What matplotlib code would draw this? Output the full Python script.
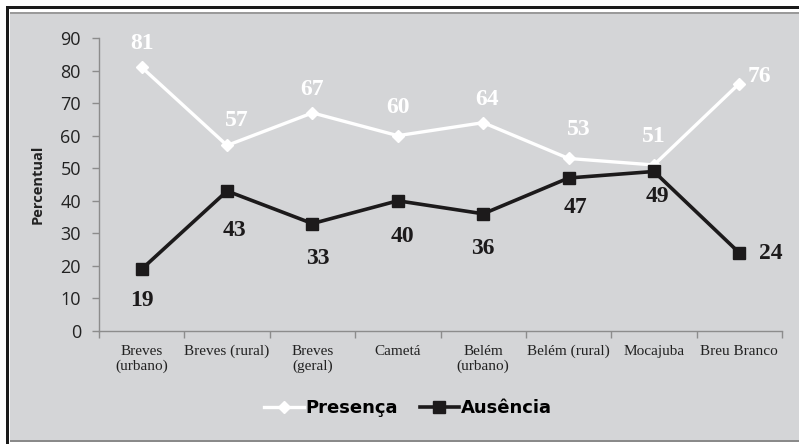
import matplotlib
matplotlib.use('Agg')
import matplotlib.pyplot as plt
from matplotlib.patches import Rectangle

# categories and percentages per locality
localidades = ['Breves\n(urbano)', 'Breves (rural)', 'Breves\n(geral)', 'Cametá',
               'Belém\n(urbano)', 'Belém (rural)', 'Mocajuba', 'Breu Branco']
presenca = [81, 57, 67, 60, 64, 53, 51, 76]
ausencia = [19, 43, 33, 40, 36, 47, 49, 24]

# label offsets in pixels (dx, dy) for each point
off_pres = [(0, 24), (10, 25), (0, 23), (0, 28), (4, 23), (10, 29), (0, 28), (20, 7)]
off_aus = [(0, -31), (7, -39), (5, -35), (5, -36), (0, -35), (7, -30), (3, -25), (31, -1)]

W, H = 799, 444
fundo = '#d4d5d7'
fig = plt.figure(figsize=(W / 100, H / 100), dpi=100, facecolor='white')

# outer frame: gray panel, dark border lines
fig.add_artist(Rectangle((10 / W, 1 - 441 / H), 789 / W, 427 / H, transform=fig.transFigure,
                         facecolor=fundo, edgecolor='none', zorder=0))
fig.add_artist(Rectangle((10 / W, 1 - 442 / H), 789 / W, 2 / H, transform=fig.transFigure,
                         facecolor='#8a8a8a', edgecolor='none', zorder=1))
fig.add_artist(Rectangle((10 / W, 1 - 14 / H), 789 / W, 1.5 / H, transform=fig.transFigure,
                         facecolor='#9a9a9a', edgecolor='none', zorder=1))
fig.add_artist(Rectangle((6 / W, 1 - 9 / H), 793 / W, 3 / H, transform=fig.transFigure,
                         facecolor='#1a1a1a', edgecolor='none', zorder=2))
fig.add_artist(Rectangle((6 / W, 0), 3 / W, 1 - 6 / H, transform=fig.transFigure,
                         facecolor='#1a1a1a', edgecolor='none', zorder=2))

ax = fig.add_axes([99 / W, 1 - 331 / H, 683 / W, 293 / H])
ax.set_facecolor('none')
x = list(range(len(localidades)))

ax.plot(x, presenca, color='white', lw=2.4, marker='D', ms=6.5, mec='white', mfc='white',
        label='Presença', zorder=3)
ax.plot(x, ausencia, color='#1c1a1b', lw=2.6, marker='s', ms=8.5, mec='#1c1a1b', mfc='#1c1a1b',
        label='Ausência', zorder=4)

for i in x:
    ax.annotate(str(presenca[i]), (i, presenca[i]), xytext=off_pres[i], textcoords='offset pixels',
                ha='center', va='center', color='white', fontsize=17, fontweight='bold',
                family='Liberation Serif', zorder=5)
    ax.annotate(str(ausencia[i]), (i, ausencia[i]), xytext=off_aus[i], textcoords='offset pixels',
                ha='center', va='center', color='#1c1a1b', fontsize=17, fontweight='bold',
                family='Liberation Serif', zorder=5)

ax.set_xlim(-0.5, len(localidades) - 0.5)
ax.set_ylim(0, 90)
ax.set_yticks(range(0, 91, 10))
ax.set_xticks([i + 0.5 for i in range(-1, len(localidades))])
ax.set_xticklabels([])
ax.set_xticks(x, minor=True)
ax.set_xticklabels(localidades, minor=True, family='Liberation Serif', fontsize=11,
                   color='#222222', linespacing=1.15)
ax.tick_params(axis='x', which='minor', length=0, pad=10)
ax.tick_params(axis='x', which='major', length=5, color='#8c8c8c', width=1)
ax.tick_params(axis='y', length=5, color='#8c8c8c', width=1, pad=8, labelsize=13,
               labelcolor='#222222')
for lab in ax.get_yticklabels():
    lab.set_family('Open Sans')

for s in ['top', 'right']:
    ax.spines[s].set_visible(False)
for s in ['left', 'bottom']:
    ax.spines[s].set_color('#8c8c8c')
    ax.spines[s].set_linewidth(1)

ax.set_ylabel('Percentual', family='Open Sans', fontweight='bold', fontsize=10.5, color='#222222')
ax.yaxis.set_label_coords((45 - 99) / 683, 0.5)

leg = fig.legend(loc='center', bbox_to_anchor=(408 / W, 1 - 408 / H), ncol=2, frameon=False,
                 handlelength=2.2, columnspacing=1.2, handletextpad=0.1,
                 prop={'family': 'DejaVu Sans', 'weight': 'bold', 'size': 13})

fig.savefig('out.png', dpi=100, facecolor='white')
